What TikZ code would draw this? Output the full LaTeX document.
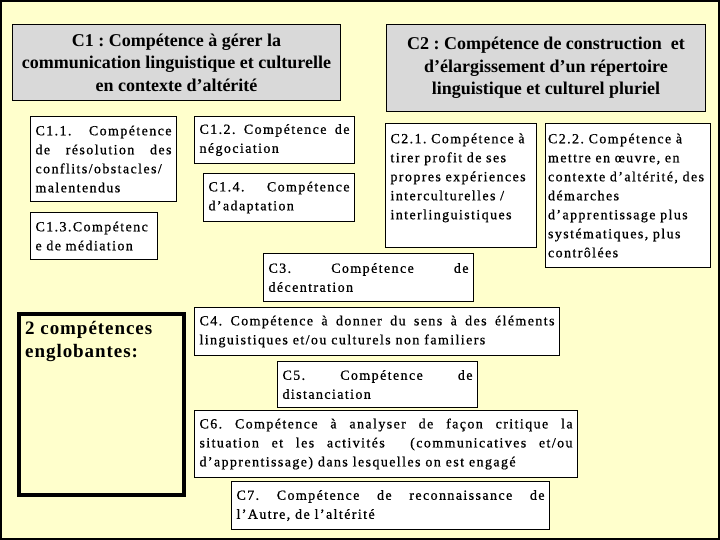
\documentclass[tikz,border=0pt]{standalone}
\usepackage{fontspec}
\setmainfont{Liberation Serif}
\newfontfamily\spacedfont{Liberation Serif}[LetterSpace=10,FakeBold=0.8]
\newfontfamily\boldspaced{Liberation Serif}[LetterSpace=5]
\usepackage{tikz}
\usetikzlibrary{positioning}
\definecolor{slidebg}{RGB}{255,255,204}
\definecolor{headgrey}{RGB}{217,217,217}
\tikzset{head node/.style={draw,fill=headgrey,line width=1pt,anchor=north west,align=center,inner sep=0pt,font=\bfseries\fontsize{18}{22.5}\selectfont},
  comp node/.style={draw,fill=white,line width=1pt,anchor=north west,inner xsep=5pt,inner ysep=0pt,align=justify,font=\spacedfont\fontsize{14}{19}\selectfont},
  frame node/.style={draw,line width=4pt,anchor=north west,inner sep=0pt},}

\begin{document}
\frenchspacing
\begin{tikzpicture}[x=1pt,y=-1pt]
        % Slide
        \useasboundingbox (0,0) rectangle (720,540);
        \fill[slidebg] (0,0) rectangle (720,540);
        \draw[line width=2pt] (1,1) rectangle (719,539);
        % Two main competences
        \node[head node,minimum width=328pt,minimum height=76pt] (c1) at (12,24) {C1 : Compétence à gérer la\\communication linguistique et culturelle\\en contexte d’altérité};
        \node[head node,minimum width=319pt,minimum height=87pt] (c2) at (386,24) {C2 : Compétence de construction\ \ et\\d’élargissement d’un répertoire\\linguistique et culturel pluriel};
        % Sub competences of C1
        \node[comp node,text width=136pt,minimum height=85pt] (c11) at (30,116) {C1.1. Compétence\linebreak de résolution des\linebreak conflits/obstacles/\linebreak malentendus};
        \node[comp node,text width=150pt,minimum height=47pt] (c12) at (194,116) {C1.2. Compétence de\linebreak négociation};
        \node[comp node,text width=141pt,minimum height=48pt] [below right = 9pt and 9pt of c12.south west] (c14) {C1.4.\ \ Compétence\linebreak d’adaptation};
        \node[comp node,text width=117pt,minimum height=47pt,align=left] [below right = 10pt and 0pt of c11.south west] (c13) {C1.3.Compétenc\\e de médiation};
        % Sub competences of C2
        \node[comp node,text width=141pt,inner ysep=10pt,align=left] (c21) at (385,123) {C2.1. Compétence à\\tirer profit de ses\\propres expériences\\interculturelles /\\interlinguistiques\rule[-18pt]{0pt}{18pt}};
        \node[comp node,text width=160pt,inner xsep=2.5pt,minimum height=144pt,align=left] (c22) at (545,123) {C2.2. Compétence à\\mettre en œuvre, en\\contexte d’altérité, des\\démarches\\d’apprentissage plus\\systématiques, plus\\contrôlées};
        % Other competences
        \node[comp node,text width=200pt,minimum height=48pt] (c3) at (263,253) {C3. Compétence de\linebreak décentration};
        \node[comp node,text width=355pt,minimum height=48pt] (c4) at (194,307) {C4. Compétence à donner du sens à des éléments\linebreak linguistiques et/ou culturels non familiers};
        \node[comp node,text width=190pt,minimum height=46pt] (c5) at (277,361) {C5. Compétence de\linebreak distanciation};
        \node[comp node,text width=373pt,minimum height=67pt] (c6) at (194,410) {C6. Compétence à analyser de façon critique la\linebreak situation et les activités~ (communicatives et/ou\linebreak d’apprentissage) dans lesquelles on est engagé};
        \node[comp node,text width=308pt,minimum height=48pt] (c7) at (231,481) {C7. Compétence de reconnaissance de\linebreak l’Autre, de l’altérité};
        % Framed box
        \node[frame node,minimum width=165pt,minimum height=181pt] (englob) at (17,312) {};
        \node[anchor=north west,align=left,inner sep=0pt,font=\boldspaced\bfseries\fontsize{19}{23}\selectfont] [below right = 9pt and 8pt of englob.north west] (englobtext) {2 compétences\\englobantes:};
    \end{tikzpicture}
\end{document}
